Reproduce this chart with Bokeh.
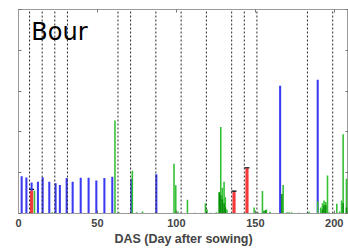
from bokeh.plotting import figure
from bokeh.models import (ColumnDataSource, Whisker, TeeHead, LinearAxis,
                          FixedTicker, Label, Range1d)
from bokeh.embed import file_html
from bokeh.resources import INLINE

# ---- data ----
x_ticks = [0, 50, 100, 150, 200]
y_ticks = [0, 1, 2, 3, 4, 5]

# 8-day marker lines (DAS)
marker_days = [7, 15, 23, 31, 63, 71, 87, 103, 119, 135, 143, 151, 183, 199]

# blue bars
blue_days = [2, 5, 8.3, 12.3, 15.3, 19.5, 23.5, 26.2, 30.5, 34.3, 39.4, 44.4,
             49.3, 54.4, 59.4, 71.5, 87.3, 165.7, 189.5]
blue_vals = [0.91, 0.88, 0.76, 0.78, 0.89, 0.78, 0.74, 0.70, 0.87, 0.78, 0.875,
             0.875, 0.81, 0.87, 0.90, 0.85, 0.96, 3.13, 3.28]

# light green bars
green_days = [10.1, 21.4, 61.1, 63.6, 72.1, 74.8, 78.5, 98.5, 99.6, 101, 107,
              111.6, 118.4, 119.4, 121.7, 125.3, 127.2, 128.1, 129.1, 130.2,
              131.0, 132, 149.2, 154.5, 157, 159.3, 167.6, 170, 171.4, 173,
              177.7, 184, 189.5, 191.4, 192.5, 193.5, 194.6, 195.7, 196.7,
              200, 201.6, 203.5, 204.6, 205.6, 207.7]
green_vals = [0.56, 0.03, 2.28, 0.03, 1.05, 0.03, 0.05, 1.22, 0.69, 0.05, 0.34,
              0.02, 0.25, 0.10, 0.02, 0.03, 0.52, 2.12, 0.63, 0.78,
              0.40, 0.10, 0.15, 0.55, 0.10, 0.04, 0.70, 0.03, 0.03, 0.03,
              0.02, 0.04, 0.30, 0.15, 0.25, 0.32, 0.28, 0.93, 0.03,
              0.03, 0.24, 0.05, 0.32, 1.94, 0.85]

# dark green bars
dgreen_days = [99.9, 127.2, 128.1, 129.1, 130.2, 131.0, 151.5, 155.5, 156.5,
               166.8, 192.5, 193.5, 194.6, 205.6, 207.7]
dgreen_vals = [0.05, 0.52, 0.45, 0.35, 0.25, 0.15, 0.03, 0.07, 0.08,
               0.48, 0.10, 0.20, 0.20, 0.25, 0.15]

# red bars with error bars
red_days = [8.3, 136.5, 144.7]
red_vals = [0.56, 0.52, 1.10]
red_err = [0.03, 0.03, 0.02]

# ---- figure ----
p = figure(frame_width=330, frame_height=204,
           x_range=Range1d(0, 209), y_range=Range1d(0, 5),
           output_backend="svg", toolbar_location=None,
           min_border_left=18, min_border_right=0,
           min_border_top=9, min_border_bottom=37)
p.xgrid.visible = False
p.ygrid.visible = False
p.outline_line_color = "#9a9a9a"
p.background_fill_color = "white"
p.border_fill_color = "white"

# bars
p.vbar(x=blue_days, top=blue_vals, width=1.3, bottom=0,
       fill_color="#3a3af2", line_color=None)
p.vbar(x=green_days, top=green_vals, width=1.0, bottom=0,
       fill_color="#34c034", line_color=None)
p.vbar(x=dgreen_days, top=dgreen_vals, width=1.0, bottom=0,
       fill_color="#0a8f0a", line_color=None)
p.vbar(x=red_days, top=red_vals, width=2.0, bottom=0,
       fill_color="#f23a3a", line_color=None)

upper = [v + e for v, e in zip(red_vals, red_err)]
lower = [v - e for v, e in zip(red_vals, red_err)]
wsrc = ColumnDataSource(data=dict(base=red_days, upper=upper, lower=lower))
p.add_layout(Whisker(base="base", upper="upper", lower="lower", source=wsrc,
                     line_color="black", line_width=1,
                     upper_head=TeeHead(size=5, line_color="black", line_width=1.2),
                     lower_head=None))

# dotted marker lines
p.segment(x0=marker_days, y0=[0] * len(marker_days),
          x1=marker_days, y1=[5] * len(marker_days),
          line_color="#2a2a2a", line_width=1, line_dash="2 2")

# site label
p.add_layout(Label(x=8.1, y=4.46, text="Bour", text_font="DejaVu Sans",
                   text_font_size="24px", text_baseline="alphabetic",
                   text_color="black"))

# axes
xa = p.xaxis[0]
xa.ticker = FixedTicker(ticks=x_ticks)
xa.axis_label = "DAS (Day after sowing)"
xa.axis_label_text_font = "Liberation Sans"
xa.axis_label_text_font_style = "bold"
xa.axis_label_text_font_size = "12.5px"
xa.axis_label_standoff = 2
xa.major_label_text_font = "Liberation Sans"
xa.major_label_text_font_style = "bold"
xa.major_label_text_font_size = "11px"
xa.major_label_standoff = 5
xa.major_tick_in = 3
xa.major_tick_out = 0
xa.minor_tick_line_color = None
xa.axis_line_color = "#9a9a9a"
xa.major_tick_line_color = "#777777"

ya = p.yaxis[0]
ya.ticker = FixedTicker(ticks=y_ticks)
ya.major_label_text_font_size = "1px"
ya.major_label_text_alpha = 0
ya.major_label_standoff = 0
ya.major_tick_in = 3
ya.major_tick_out = 0
ya.minor_tick_line_color = None
ya.axis_line_color = "#9a9a9a"
ya.major_tick_line_color = "#777777"

top_ax = LinearAxis(ticker=FixedTicker(ticks=x_ticks),
                    major_label_text_font_size="1px",
                    major_label_text_alpha=0, major_label_standoff=0,
                    major_tick_in=3, major_tick_out=0,
                    minor_tick_line_color=None, axis_line_color="#9a9a9a",
                    major_tick_line_color="#777777")
p.add_layout(top_ax, "above")
right_ax = LinearAxis(ticker=FixedTicker(ticks=y_ticks),
                      major_label_text_font_size="1px",
                      major_label_text_alpha=0, major_label_standoff=0,
                      major_tick_in=3, major_tick_out=0,
                      minor_tick_line_color=None, axis_line_color="#9a9a9a",
                      major_tick_line_color="#777777")
p.add_layout(right_ax, "right")

open("out.html", "w").write(file_html(p, INLINE))
